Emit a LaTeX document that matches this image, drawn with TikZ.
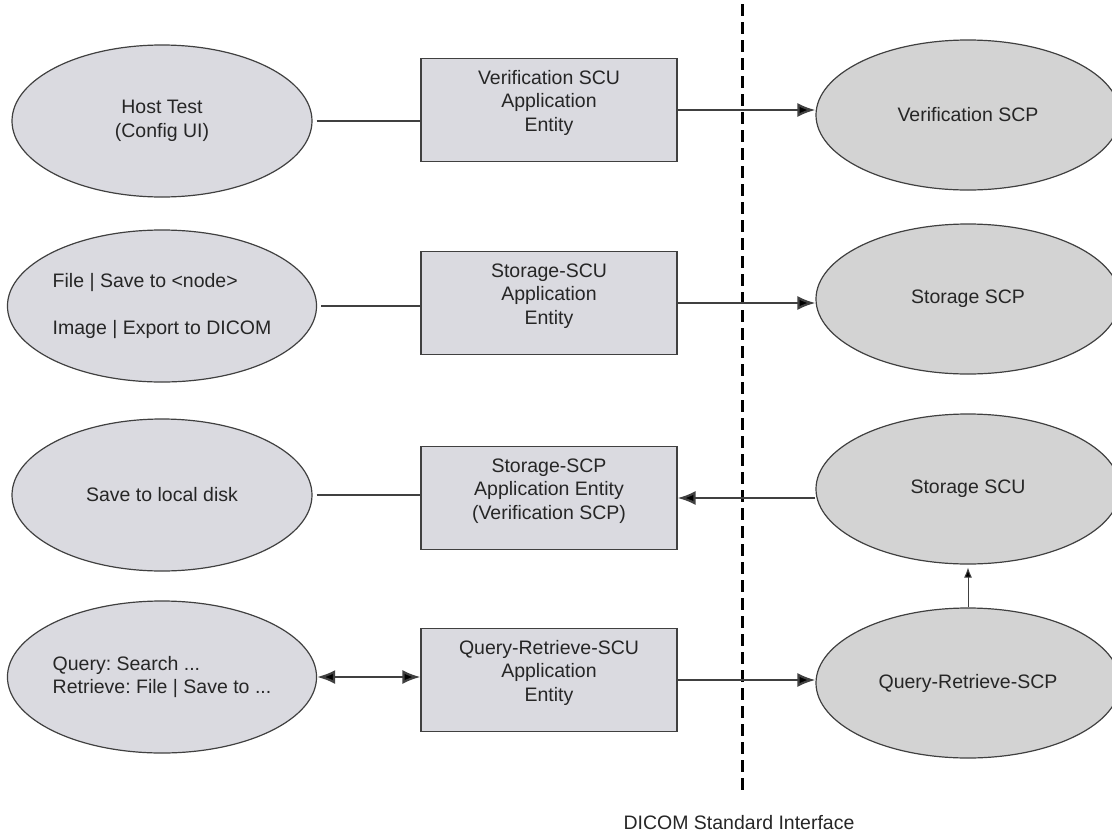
\documentclass[tikz,border=0pt]{standalone}
\usepackage{fontspec}
\setmainfont{Liberation Sans}
\usetikzlibrary{arrows.meta,shapes.geometric}
\frenchspacing

\definecolor{leftgray}{RGB}{218,218,224}
\definecolor{rightgray}{RGB}{211,211,211}
\definecolor{linegray}{RGB}{64,64,64}
\definecolor{textgray}{RGB}{38,38,38}

\newcommand{\liftlines}[1]{\raisebox{7pt}[\height][\depth]{\begin{tabular}{@{}c@{}}#1\end{tabular}}}

\begin{document}
\begin{tikzpicture}[x=1pt,y=-1pt,
    font=\fontsize{19.5}{23.5}\selectfont, text=textgray]

      \useasboundingbox (0,0) rectangle (1112,833);

      % interface
      \coordinate (ifacetop) at (742,4);
      \coordinate (ifacebot) at (742,792);
      \draw[line width=3pt, dash pattern=on 12pt off 6pt] (ifacetop) -- (ifacebot);
      \node (ifacelabel) at (739,823) {DICOM Standard Interface};

      \begin{scope}[every node/.style={ellipse,draw=linegray,line width=1.2pt,fill=leftgray,
          minimum width=300pt,minimum height=152pt,inner sep=0pt}]
        \node[align=center] (hosttest)  at (162,121) {Host Test\\(Config UI)};
        \node[align=left]   (fileimage) at (162,306) {File | Save to <node>\\[24pt]Image | Export to DICOM};
        \node[align=center] (localdisk) at (162,495) {Save to local disk};
        \node[align=left]   (queryret)  at (162,677) {Query: Search ...\\Retrieve: File | Save to ...};
      \end{scope}

      \begin{scope}[every node/.style={rectangle,draw=linegray,line width=1.2pt,fill=leftgray,
          minimum width=256pt,minimum height=103pt,inner sep=0pt}]
        \node (verscu) at (549,110) {\liftlines{Verification SCU\\Application\\Entity}};
        \node (storscu) at (549,303) {\liftlines{Storage-SCU\\Application\\Entity}};
        \node (storscp) at (549,498) {\liftlines{Storage-SCP\\Application Entity\\(Verification SCP)}};
        \node (qrscu)   at (549,680) {\liftlines{Query-Retrieve-SCU\\Application\\Entity}};
      \end{scope}

      \begin{scope}[every node/.style={ellipse,draw=linegray,line width=1.2pt,fill=rightgray,
          minimum width=304pt,minimum height=150pt,inner sep=0pt}]
        \node (vercp)   at (968,115) {Verification SCP};
        \node (storcp)  at (968,299) {Storage SCP};
        \node (storcu)  at (968,489) {Storage SCU};
        \node (qrcp)    at (968,683) {Query-Retrieve-SCP};
      \end{scope}

      \begin{scope}[every edge/.style={draw=linegray,line width=2.2pt}]
        \path (hosttest)  edge[shorten <=4pt] (hosttest -| verscu.west);
        \path (fileimage) edge[shorten <=4pt] (fileimage -| storscu.west);
        \path (localdisk) edge[shorten <=4pt] (localdisk -| storscp.west);
        \path (queryret)  edge[{Latex[length=18pt,width=14pt,fill=black]}-{Latex[length=18pt,width=14pt,fill=black]}] (queryret -| qrscu.west);
      \end{scope}

      \begin{scope}[every edge/.style={draw=linegray,line width=2.2pt,-{Latex[length=18pt,width=14pt,fill=black]}}]
        \path (verscu)  edge (verscu -| vercp.west);
        \path (storscu) edge (storscu -| storcp.west);
        \path (storscp -| storcu.west) edge (storscp);
        \path (qrscu)   edge (qrscu -| qrcp.west);
      \end{scope}

      \path (qrcp) edge[draw=linegray,line width=1pt,-{Latex[length=10pt,width=8pt,fill=black]},shorten >=3pt] (storcu);

    \end{tikzpicture}
\end{document}
